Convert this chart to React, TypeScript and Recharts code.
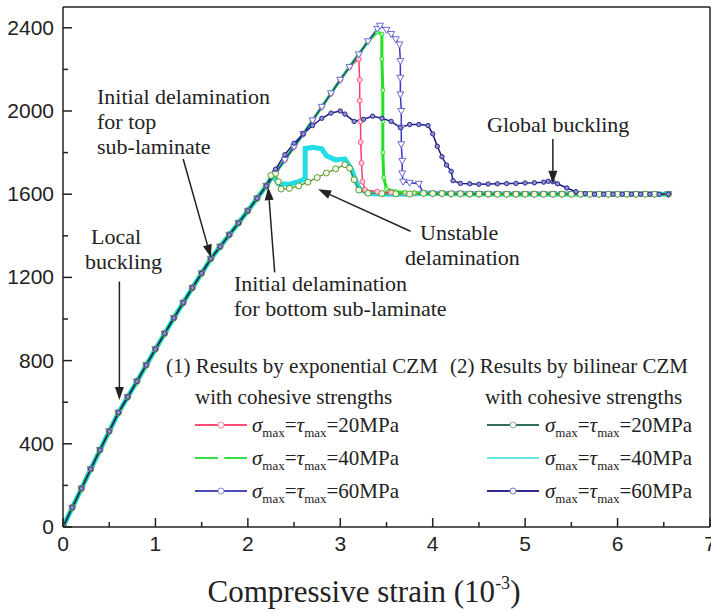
import React from 'react';
import { LineChart, Line, XAxis, YAxis, ReferenceLine } from 'recharts';

// shared linear rise of all six curves (strain in 1e-3, load)
const riseX = [0, 0.1, 0.2, 0.3, 0.4, 0.5, 0.6, 0.7, 0.8, 0.9, 1.0, 1.1, 1.2, 1.3, 1.4, 1.5, 1.6, 1.7, 1.8, 1.9, 2.0, 2.1, 2.2];
const riseY = [0, 93, 185, 278, 370, 460, 550, 625, 700, 778, 855, 930, 1005, 1078, 1150, 1220, 1290, 1348, 1405, 1462, 1520, 1580, 1640];

// exponential CZM keeps rising after 2.2
const expUpperX = [2.3, 2.4, 2.5, 2.6, 2.7, 2.8, 2.9, 3.0, 3.1];
const expUpperY = [1702, 1765, 1828, 1890, 1955, 2020, 2085, 2150, 2212];

const exp20TailX = [3.2, 3.21, 3.21, 3.22, 3.22, 3.23, 3.24, 3.27, 3.4, 3.55, 3.7, 3.8];
const exp20TailY = [2250, 2150, 2050, 1950, 1850, 1750, 1660, 1620, 1612, 1608, 1606, 1605];

const exp40TailX = [3.2, 3.3, 3.4, 3.45, 3.45, 3.46, 3.46, 3.46, 3.47, 3.5, 3.6, 3.7, 3.8];
const exp40TailY = [2272, 2335, 2380, 2370, 2250, 2100, 1950, 1800, 1680, 1625, 1612, 1608, 1606];

const exp60TailX = [3.2, 3.3, 3.4, 3.43, 3.5, 3.55, 3.6, 3.64, 3.65, 3.65, 3.65, 3.66, 3.66, 3.66, 3.67, 3.67, 3.68, 3.75, 3.85];
const exp60TailY = [2272, 2335, 2395, 2410, 2390, 2370, 2345, 2320, 2240, 2160, 2080, 2000, 1920, 1840, 1760, 1700, 1660, 1655, 1650];

const bil20TailX = [2.25, 2.3, 2.33, 2.36, 2.45, 2.55, 2.65, 2.75, 2.85, 2.95, 3.05, 3.1, 3.15, 3.2, 3.3, 3.45, 3.6, 3.75];
const bil20TailY = [1690, 1700, 1660, 1625, 1628, 1640, 1658, 1680, 1702, 1722, 1742, 1725, 1670, 1620, 1605, 1603, 1602, 1601];

const bil40TailX = [2.27, 2.33, 2.45, 2.55, 2.62, 2.62, 2.7, 2.8, 2.85, 2.95, 3.05, 3.12, 3.2, 3.3, 3.45, 3.6, 3.75];
const bil40TailY = [1690, 1650, 1648, 1660, 1675, 1820, 1825, 1818, 1785, 1765, 1770, 1720, 1630, 1603, 1601, 1600, 1600];

const bil60TailX = [2.3, 2.4, 2.5, 2.6, 2.7, 2.8, 2.9, 3.0, 3.05, 3.15, 3.25, 3.35, 3.45, 3.55, 3.65, 3.75, 3.85, 3.95, 4.0, 4.05, 4.1, 4.15, 4.2, 4.22, 4.3, 4.4, 4.5, 4.6, 4.7, 4.8, 4.9, 5.0, 5.1, 5.2, 5.25, 5.3, 5.35, 5.45, 5.55, 5.65, 5.75, 5.85, 5.95, 6.05, 6.15, 6.25, 6.35, 6.45, 6.55];
const bil60TailY = [1720, 1790, 1845, 1890, 1930, 1965, 1990, 2000, 1985, 1950, 1960, 1975, 1965, 1950, 1920, 1935, 1935, 1930, 1890, 1830, 1780, 1740, 1710, 1665, 1652, 1650, 1648, 1649, 1650, 1651, 1652, 1654, 1655, 1658, 1662, 1660, 1650, 1630, 1612, 1603, 1600, 1600, 1600, 1600, 1600, 1600, 1600, 1600, 1600];

// residual plateau after failure
const plateauX = [3.9, 4.0, 4.1, 4.2, 4.3, 4.4, 4.5, 4.6, 4.7, 4.8, 4.9, 5.0, 5.1, 5.2, 5.3, 5.4, 5.5, 5.6, 5.7, 5.8, 5.9, 6.0, 6.1, 6.2, 6.3, 6.4, 6.55];
const plateauY = [1604, 1603, 1603, 1602, 1602, 1601, 1601, 1601, 1600, 1600, 1600, 1600, 1600, 1600, 1600, 1600, 1600, 1600, 1600, 1600, 1600, 1600, 1600, 1600, 1600, 1600, 1600];

const xTicks = [0, 0.5, 1, 1.5, 2, 2.5, 3, 3.5, 4, 4.5, 5, 5.5, 6, 6.5, 7];
const yTicks = [0, 200, 400, 600, 800, 1000, 1200, 1400, 1600, 1800, 2000, 2200, 2400];
const strengths = [20, 40, 60];

const zip = (xs: number[], ys: number[]) => xs.map((x, i) => ({ x, y: ys[i] }));
const rise = zip(riseX, riseY);
const expUpper = zip(expUpperX, expUpperY);
const plateau = zip(plateauX, plateauY);

const exp20 = [...rise, ...expUpper, ...zip(exp20TailX, exp20TailY), ...plateau];
const exp40 = [...rise, ...expUpper, ...zip(exp40TailX, exp40TailY), ...plateau];
const exp60 = [...rise, ...expUpper, ...zip(exp60TailX, exp60TailY), ...plateau];
const bil20 = [...rise, ...zip(bil20TailX, bil20TailY), ...plateau];
const bil40 = [...rise, ...zip(bil40TailX, bil40TailY), ...plateau];
const bil60 = [...rise, ...zip(bil60TailX, bil60TailY)];

const SERIF = '"Liberation Serif", "Times New Roman", serif';
const SANS = '"Liberation Sans", Arial, sans-serif';
const INK = '#222';

const W = 711;
const H = 611;
const PL = 63;
const PR = 710;
const PT = 7;
const PB = 527;
const px = (x: number) => PL + (x / 7) * (PR - PL);
const py = (y: number) => PB - (y / 2500) * (PB - PT);

const circleDot = (stroke: string, fill: string, r: number) => (p: any) =>
  <circle key={`c${p.index}`} cx={p.cx} cy={p.cy} r={r} stroke={stroke} fill={fill} strokeWidth={1} />;

const triangleDot = (stroke: string) => (p: any) => (
  <polygon
    key={`t${p.index}`}
    points={`${p.cx - 3.5},${p.cy - 2.5} ${p.cx + 3.5},${p.cy - 2.5} ${p.cx},${p.cy + 3.5}`}
    stroke={stroke}
    fill="#fff"
    strokeWidth={1}
  />
);

const YTick = (props: any) => {
  const { x, y, payload } = props;
  const major = payload.value % 400 === 0;
  return (
    <g>
      <line x1={x} x2={x + (major ? 9 : 5)} y1={y} y2={y} stroke={INK} strokeWidth={1.5} />
      {major && (
        <text x={x - 9} y={y + 7} textAnchor="end" fontSize={21} fontFamily={SANS} fill={INK}>
          {payload.value}
        </text>
      )}
    </g>
  );
};

const XTick = (props: any) => {
  const { x, y, payload } = props;
  const major = Number.isInteger(payload.value);
  return (
    <g>
      <line x1={x} x2={x} y1={y} y2={y - (major ? 9 : 5)} stroke={INK} strokeWidth={1.5} />
      {major && (
        <text x={x} y={y + 24} textAnchor="middle" fontSize={21} fontFamily={SANS} fill={INK}>
          {payload.value}
        </text>
      )}
    </g>
  );
};

function Arrow({ x1, y1, x2, y2 }: { x1: number; y1: number; x2: number; y2: number }) {
  const a = Math.atan2(y2 - y1, x2 - x1);
  const len = 13;
  const hw = 4.5;
  const bx = x2 - Math.cos(a) * len;
  const by = y2 - Math.sin(a) * len;
  const nx = -Math.sin(a) * hw;
  const ny = Math.cos(a) * hw;
  return (
    <g>
      <line x1={x1} y1={y1} x2={bx} y2={by} stroke={INK} strokeWidth={1.5} />
      <polygon points={`${x2},${y2} ${bx + nx},${by + ny} ${bx - nx},${by - ny}`} fill={INK} />
    </g>
  );
}

function StrengthLabel({ x, y, value }: { x: number; y: number; value: number }) {
  return (
    <text x={x} y={y} fontFamily={SERIF} fontSize={21} fill={INK}>
      <tspan fontStyle="italic">σ</tspan>
      <tspan fontSize={13} dy={5}>max</tspan>
      <tspan dy={-5}>=</tspan>
      <tspan fontStyle="italic">τ</tspan>
      <tspan fontSize={13} dy={5}>max</tspan>
      <tspan dy={-5}>={value}MPa</tspan>
    </text>
  );
}

function Sample({ x, y, color, width, marker }: { x: number; y: number; color: string; width: number; marker?: string }) {
  return (
    <g>
      <line x1={x} x2={x + 52} y1={y} y2={y} stroke={color} strokeWidth={width} />
      {marker && <circle cx={x + 26} cy={y} r={3} stroke={marker} fill="#fff" strokeWidth={1} />}
    </g>
  );
}

const expColors = [
  { color: '#ff4d76', width: 2, marker: '#ff8aa4' },
  { color: '#33dd44', width: 2, marker: '#dff8df' },
  { color: '#4a4ab8', width: 2, marker: '#8a8ad8' },
];
const bilColors = [
  { color: '#2f6e58', width: 2, marker: '#8aa' },
  { color: '#66e6e6', width: 2, marker: undefined },
  { color: '#2e2e90', width: 2, marker: '#7777bb' },
];

const rowBase = [432, 465, 498];

function Overlay() {
  return (
    <svg width={W} height={H} style={{ position: 'absolute', left: 0, top: 0, pointerEvents: 'none' }}>
      <g fontFamily={SERIF} fontSize={22} fill={INK}>
        <text x={97} y={104}>Initial delamination</text>
        <text x={97} y={129}>for top</text>
        <text x={97} y={154}>sub-laminate</text>
        <text x={91} y={244}>Local</text>
        <text x={85} y={269}>buckling</text>
        <text x={234} y={291}>Initial delamination</text>
        <text x={234} y={316}>for bottom sub-laminate</text>
        <text x={420} y={240}>Unstable</text>
        <text x={405} y={265}>delamination</text>
        <text x={487} y={132}>Global buckling</text>
      </g>
      <Arrow x1={px(1.3)} y1={py(1769)} x2={px(1.6)} y2={py(1296)} />
      <Arrow x1={px(0.61)} y1={py(1180)} x2={px(0.61)} y2={py(610)} />
      <Arrow x1={px(2.29)} y1={py(1224)} x2={px(2.22)} y2={py(1634)} />
      <Arrow x1={px(3.76)} y1={py(1422)} x2={px(2.76)} y2={py(1624)} />
      <Arrow x1={px(5.3)} y1={py(1865)} x2={px(5.3)} y2={py(1650)} />

      <g fontFamily={SERIF} fontSize={21} fill={INK}>
        <text x={166} y={373}>(1) Results by exponential CZM</text>
        <text x={450} y={373}>(2) Results by bilinear CZM</text>
        <text x={195} y={404}>with cohesive strengths</text>
        <text x={485} y={404}>with cohesive strengths</text>
      </g>
      {strengths.map((s, i) => (
        <g key={s}>
          <Sample x={195} y={rowBase[i] - 7} {...expColors[i]} />
          <StrengthLabel x={252} y={rowBase[i]} value={s} />
          <Sample x={487} y={rowBase[i] - 7} {...bilColors[i]} />
          <StrengthLabel x={545} y={rowBase[i]} value={s} />
        </g>
      ))}

      <text x={364} y={602} textAnchor="middle" fontFamily={SERIF} fontSize={31} fill={INK}>
        Compressive strain (10
        <tspan fontSize={18} dy={-13}>-3</tspan>
        <tspan dy={13}>)</tspan>
      </text>
    </svg>
  );
}

export default function App() {
  return (
    <div style={{ position: 'absolute', left: 0, top: 0, width: W, height: H, background: '#fff' }}>
      <LineChart width={W} height={H} margin={{ top: PT, right: W - PR, left: 0, bottom: 0 }}>
        <XAxis
          dataKey="x"
          type="number"
          domain={[0, 7]}
          ticks={xTicks}
          interval={0}
          height={H - PB}
          tickLine={false}
          tickSize={0}
          tickMargin={0}
          tick={XTick}
          axisLine={{ stroke: INK, strokeWidth: 1.5 }}
          allowDataOverflow
        />
        <YAxis
          type="number"
          domain={[0, 2500]}
          ticks={yTicks}
          interval={0}
          width={PL}
          tickLine={false}
          tickSize={0}
          tickMargin={0}
          tick={YTick}
          axisLine={{ stroke: INK, strokeWidth: 1.5 }}
          allowDataOverflow
        />
        <ReferenceLine y={2500} stroke={INK} strokeWidth={1.5} />
        <ReferenceLine x={7} stroke={INK} strokeWidth={1.5} />

        <Line data={bil40} dataKey="y" stroke="#22dde6" strokeWidth={5} dot={false} isAnimationActive={false} />
        <Line data={exp20} dataKey="y" stroke="#ff3b6b" strokeWidth={1.5} dot={circleDot('#ff5c7f', '#ffd0da', 2.5)} isAnimationActive={false} />
        <Line data={exp40} dataKey="y" stroke="#22e022" strokeWidth={3} dot={circleDot('#33dd33', '#b8ffb8', 2)} isAnimationActive={false} />
        <Line data={exp60} dataKey="y" stroke="#3838c8" strokeWidth={1.5} dot={triangleDot('#6b6bd6')} isAnimationActive={false} />
        <Line data={bil20} dataKey="y" stroke="#4f8a2e" strokeWidth={1.2} dot={circleDot('#5c9a2c', '#f2fbe8', 3)} isAnimationActive={false} />
        <Line data={bil60} dataKey="y" stroke="#1e1e88" strokeWidth={1.5} dot={circleDot('#2a2a90', '#9090d0', 2.2)} isAnimationActive={false} />
      </LineChart>
      <Overlay />
    </div>
  );
}
